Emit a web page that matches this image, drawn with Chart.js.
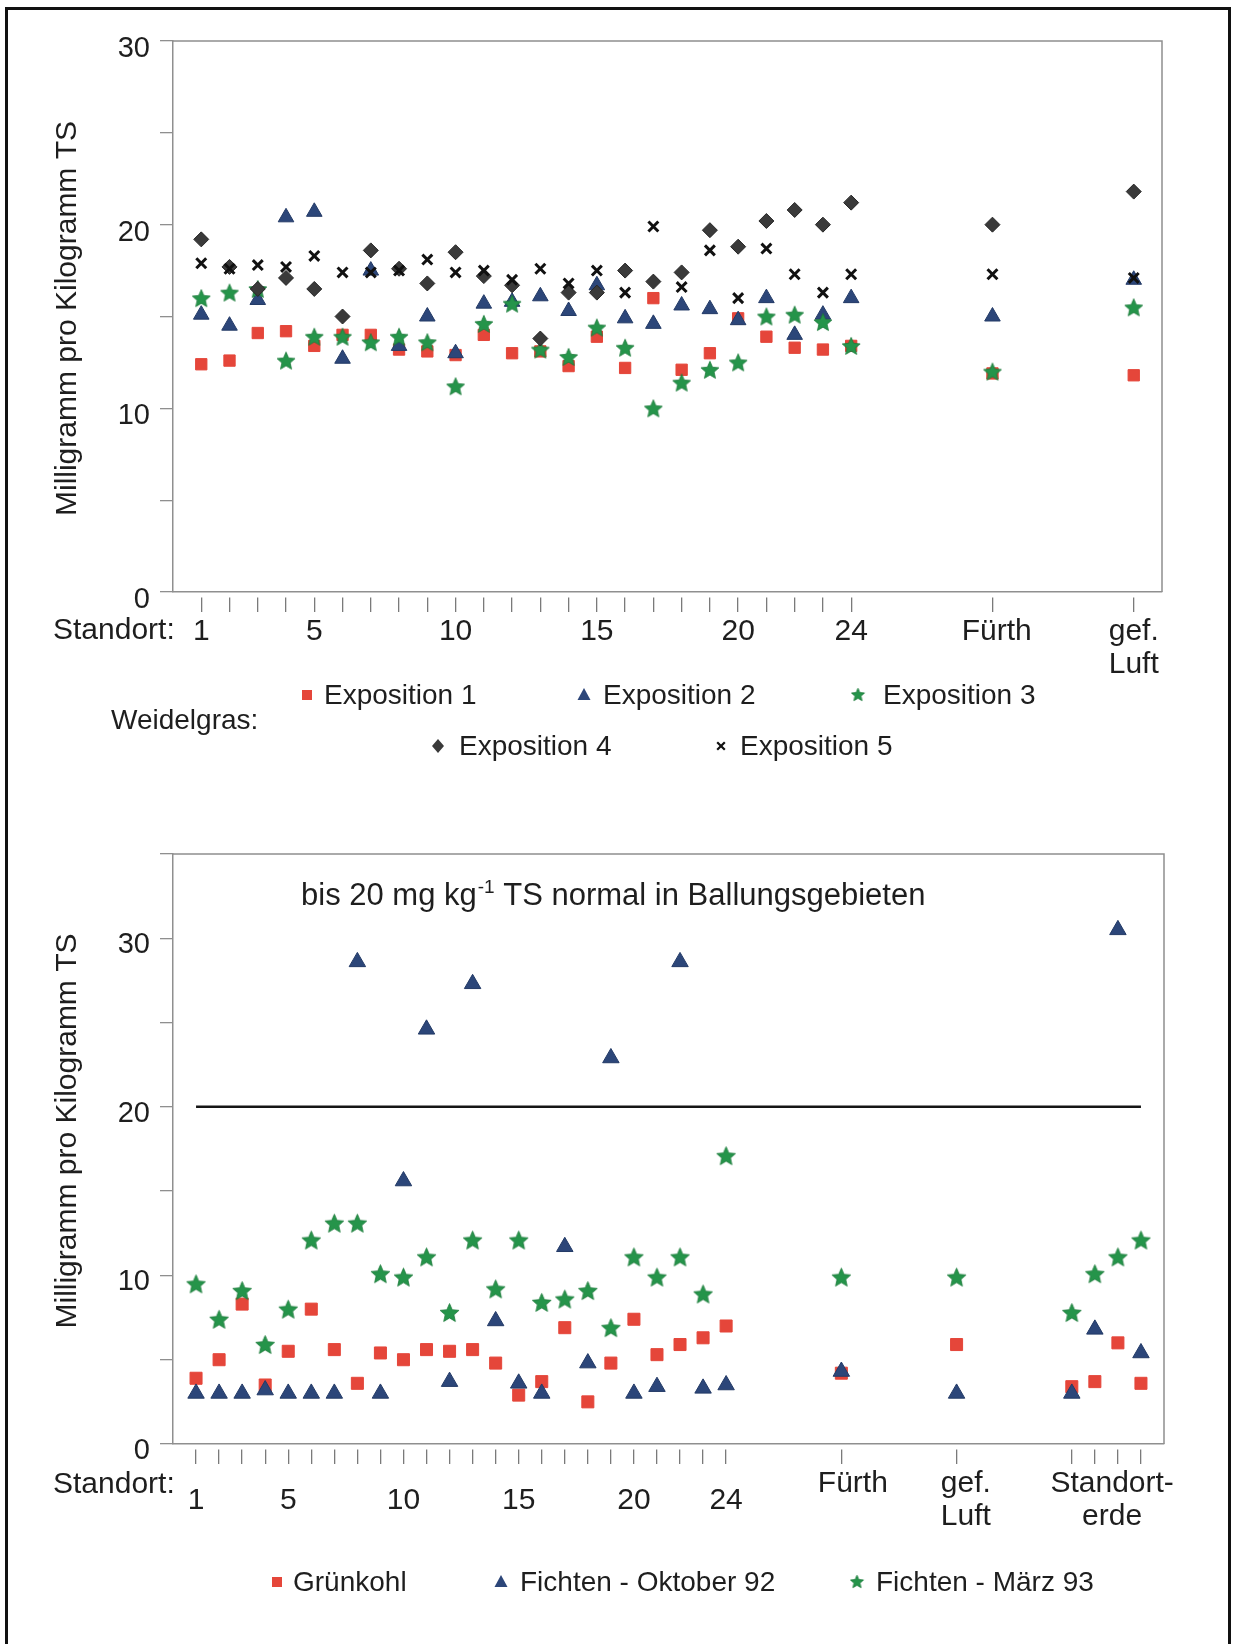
<!DOCTYPE html>
<html>
<head>
<meta charset="utf-8">
<script src="https://cdn.jsdelivr.net/npm/chart.js@4.4.1/dist/chart.umd.min.js"></script>
<style>
  html, body { margin: 0; padding: 0; background: #fff; }
  body { width: 1235px; height: 1644px; position: relative; overflow: hidden; }
  #frame { position: absolute; left: 5px; top: 7px; width: 1226px; height: 1680px;
           border: 3px solid #111; box-sizing: border-box; }
  #grassWrap { position: absolute; left: 0; top: 0; width: 1235px; height: 780px; }
  #kaleWrap  { position: absolute; left: 0; top: 780px; width: 1235px; height: 864px; }
  canvas { display: block; }
</style>
</head>
<body>
<div id="frame"></div>
<div id="grassWrap"><canvas id="grass" width="1235" height="780"></canvas></div>
<div id="kaleWrap"><canvas id="kale" width="1235" height="864"></canvas></div>
<script>
// ---------- Weidelgras (ryegrass), five exposures ----------
const grassSites  = ['1','2','3','4','5','6','7','8','9','10','11','12','13','14','15','16','17','18','19','20','21','22','23','24','Fürth','gef. Luft'];
const grassSiteX  = [1,2,3,4,5,6,7,8,9,10,11,12,13,14,15,16,17,18,19,20,21,22,23,24,29,34];
const expo1 = [12.4,12.6,14.1,14.2,13.4,14.0,14.0,13.2,13.1,12.9,14.0,13.0,13.1,12.3,13.9,12.2,16.0,12.1,13.0,14.9,13.9,13.3,13.2,13.4,11.9,11.8];
const expo2 = [15.1,14.5,15.9,20.4,20.7,12.7,17.5,13.4,15.0,13.0,15.7,15.8,16.1,15.3,16.7,14.9,14.6,15.6,15.4,14.8,16.0,14.0,15.1,16.0,15.0,17.0];
const expo3 = [16.0,16.3,16.5,12.6,13.9,13.9,13.6,13.9,13.6,11.2,14.6,15.7,13.2,12.8,14.4,13.3,10.0,11.4,12.1,12.5,15.0,15.1,14.7,13.4,12.0,15.5];
const expo4 = [19.2,17.7,16.5,17.1,16.5,15.0,18.6,17.6,16.8,18.5,17.2,16.7,13.8,16.3,16.3,17.5,16.9,17.4,19.7,18.8,20.2,20.8,20.0,21.2,20.0,21.8];
const expo5 = [17.9,17.6,17.8,17.7,18.3,17.4,17.4,17.5,18.1,17.4,17.5,17.0,17.6,16.8,17.5,16.3,19.9,16.6,18.6,16.0,18.7,17.3,16.3,17.3,17.3,17.1];
const grassSeriesNames = ['Exposition 1','Exposition 2','Exposition 3','Exposition 4','Exposition 5'];
const grassLabelX    = [1,5,10,15,20,24,29.15,34];
const grassLabelText = ['1','5','10','15','20','24','Fürth','gef.\nLuft'];

// ---------- Grünkohl (kale) and Fichten (spruce) ----------
const kaleSites = ['1','2','3','4','5','6','7','8','9','10','11','12','13','14','15','16','17','18','19','20','21','22','23','24','Fürth','gef. Luft','Standorterde 1','Standorterde 2','Standorterde 3','Standorterde 4'];
const kaleSiteX = [1,2,3,4,5,6,7,8,9,10,11,12,13,14,15,16,17,18,19,20,21,22,23,24,29,34,39,40,41,42];
const kale      = [3.9,5.0,8.3,3.5,5.5,8.0,5.6,3.6,5.4,5.0,5.6,5.5,5.6,4.8,2.9,3.7,6.9,2.5,4.8,7.4,5.3,5.9,6.3,7.0,4.2,5.9,3.4,3.7,6.0,3.6];
const spruceOct = [3.0,3.0,3.0,3.2,3.0,3.0,3.0,28.6,3.0,15.6,24.6,3.7,27.3,7.3,3.6,3.0,11.7,4.8,22.9,3.0,3.4,28.6,3.3,3.5,4.3,3.0,3.0,6.8,30.5,5.4];
const spruceMar = [9.5,7.4,9.1,5.9,8.0,12.1,13.1,13.1,10.1,9.9,11.1,7.8,12.1,9.2,12.1,8.4,8.6,9.1,6.9,11.1,9.9,11.1,8.9,17.1,9.9,9.9,7.8,10.1,11.1,12.1];
const kaleSeriesNames = ['Grünkohl','Fichten - Oktober 92','Fichten - März 93'];
const kaleNumberX    = [1,5,10,15,20,24];
const kaleNumberText = ['1','5','10','15','20','24'];
const kalePlaceX     = [29.5,34.4,40.75];
const kalePlaceText  = ['Fürth','gef.\nLuft','Standort-\nerde'];
const normalLimit = 20;          // mg/kg TS, usual upper level in conurbations
const normalSpan  = [1, 42];

const yTitle = 'Milligramm pro Kilogramm TS';

// ---------- styling ----------
const FONT = '"Liberation Sans", Arial, Helvetica, sans-serif';
const INK = '#1e1e1e';
const GREY = '#8f8f8f';
const RED = '#e5463a';
const NAVY = '#2c4679';
const GREEN = '#25944a';
const DARK = '#3a3a3a';

function makeStar(size, fill, edge) {
  const c = document.createElement('canvas');
  c.width = size; c.height = size;
  const g = c.getContext('2d');
  const R = size / 2 - 0.6, r = R * 0.46;
  const cx = size / 2, cy = size / 2 + R * 0.09;
  g.beginPath();
  for (let k = 0; k < 10; k++) {
    const a = -Math.PI / 2 + k * Math.PI / 5;
    const rr = k % 2 === 0 ? R : r;
    g.lineTo(cx + rr * Math.cos(a), cy + rr * Math.sin(a));
  }
  g.closePath();
  g.fillStyle = fill; g.fill();
  g.lineWidth = 0.8; g.strokeStyle = edge; g.stroke();
  return c;
}
const starTop = makeStar(20, GREEN, '#1c7a3a');
const starBottom = makeStar(21, GREEN, '#1c7a3a');
const starLegend = makeStar(15, GREEN, '#1c7a3a');

const markSquare   = { pointStyle: 'rect', pointRadius: 8, backgroundColor: RED, borderColor: RED, borderWidth: 1 };
const markTriangle = { pointStyle: 'triangle', pointRadius: 9, backgroundColor: NAVY, borderColor: '#233a66', borderWidth: 1 };
const markDiamond  = { pointStyle: 'rectRot', pointRadius: 7.5, backgroundColor: DARK, borderColor: '#262626', borderWidth: 1 };
const markCross    = { pointStyle: 'crossRot', pointRadius: 7, backgroundColor: '#111', borderColor: '#111', borderWidth: 3 };

function points(xs, ys) { return xs.map((x, i) => ({ x: x, y: ys[i] })); }
function series(label, xs, ys, mark, order) {
  return Object.assign({ type: 'scatter', label: label, data: points(xs, ys), order: order,
                         pointHoverRadius: mark.pointRadius }, mark);
}

// legend marker painter
function drawMarker(ctx, kind, x, y) {
  ctx.save();
  if (kind === 'square') {
    ctx.fillStyle = RED; ctx.fillRect(x - 5, y - 5, 10, 10);
  } else if (kind === 'triangle') {
    ctx.fillStyle = NAVY; ctx.beginPath();
    ctx.moveTo(x, y - 7); ctx.lineTo(x + 6.5, y + 5); ctx.lineTo(x - 6.5, y + 5); ctx.closePath(); ctx.fill();
  } else if (kind === 'star') {
    ctx.drawImage(starLegend, x - 7.5, y - 8);
  } else if (kind === 'diamond') {
    ctx.fillStyle = DARK; ctx.beginPath();
    ctx.moveTo(x, y - 7); ctx.lineTo(x + 6, y); ctx.lineTo(x, y + 7); ctx.lineTo(x - 6, y); ctx.closePath(); ctx.fill();
  } else if (kind === 'cross') {
    ctx.strokeStyle = '#111'; ctx.lineWidth = 2.2; ctx.beginPath();
    ctx.moveTo(x - 3.8, y - 3.8); ctx.lineTo(x + 3.8, y + 3.8);
    ctx.moveTo(x + 3.8, y - 3.8); ctx.lineTo(x - 3.8, y + 3.8); ctx.stroke();
  }
  ctx.restore();
}

// draws the plot box, axis title, site names, caption, legend and notes
const sheetPlugin = {
  id: 'sheet',
  beforeDatasetsDraw(chart) {
    const { ctx, chartArea: a } = chart;
    ctx.save();
    ctx.strokeStyle = GREY; ctx.lineWidth = 1.5;
    ctx.beginPath();
    ctx.moveTo(a.left, a.top); ctx.lineTo(a.right, a.top); ctx.lineTo(a.right, a.bottom);
    ctx.stroke();
    ctx.restore();
  },
  afterDraw(chart, args, o) {
    const { ctx, chartArea: a } = chart;
    const xs = chart.scales.x;
    ctx.save();
    ctx.fillStyle = INK;
    ctx.textBaseline = 'middle';

    // rotated value-axis title
    ctx.save();
    ctx.font = '30px ' + FONT;
    ctx.textAlign = 'center';
    ctx.translate(68, (a.top + a.bottom) / 2 + o.titleShift);
    ctx.rotate(-Math.PI / 2);
    ctx.fillText(yTitle, 0, 0);
    ctx.restore();

    ctx.font = '30px ' + FONT;
    ctx.textAlign = 'center';
    (o.siteLabels || []).forEach(g => {
      g.values.forEach((v, i) => {
        g.texts[i].split('\n').forEach((ln, k) => {
          ctx.fillText(ln, xs.getPixelForValue(v), a.bottom + g.dy + k * 33);
        });
      });
    });
    ctx.textAlign = 'left';
    ctx.fillText('Standort:', 53, a.bottom + o.captionDy);

    ctx.font = '28px ' + FONT;
    (o.legend || []).forEach(it => {
      drawMarker(ctx, it.kind, it.mx, it.y);
      ctx.fillStyle = INK;
      ctx.fillText(it.text, it.tx, it.y + 1);
    });
    if (o.groupName) ctx.fillText(o.groupName.text, o.groupName.x, o.groupName.y);

    if (o.note) {
      const n = o.note;
      let x = n.x;
      ctx.font = '31px ' + FONT;
      ctx.textBaseline = 'alphabetic';
      ctx.fillText(n.before, x, n.y); x += ctx.measureText(n.before).width + 1;
      ctx.font = '19px ' + FONT;
      ctx.fillText(n.sup, x, n.y - 12); x += ctx.measureText(n.sup).width;
      ctx.font = '31px ' + FONT;
      ctx.fillText(n.after, x, n.y);
    }
    ctx.restore();
  }
};

function yAxis(max, labelOffset) {
  return {
    type: 'linear', position: 'left', min: 0, max: max,
    ticks: { stepSize: 5, autoSkip: false, color: INK, padding: 10, labelOffset: labelOffset,
             font: { family: FONT, size: 29 }, callback: v => (v % 10 === 0 ? String(v) : '') },
    grid: { drawOnChartArea: false, drawTicks: true, tickLength: 13, color: GREY, lineWidth: 1.3 },
    border: { display: true, color: GREY, width: 1.5 },
    title: { display: false },
    afterFit: s => { s.width = 173; }
  };
}
function xAxis(max, tickValues, height) {
  return {
    type: 'linear', position: 'bottom', min: 0, max: max,
    afterBuildTicks: s => { s.ticks = tickValues.map(v => ({ value: v })); },
    ticks: { autoSkip: false, maxRotation: 0, callback: () => '', font: { family: FONT, size: 10 } },
    grid: { drawOnChartArea: false, drawTicks: true, tickLength: 20, color: '#7a7a7a', lineWidth: 1.3,
            tickBorderDash: [0, 5, 15, 60] },
    border: { display: true, color: GREY, width: 1.5 },
    afterFit: s => { s.height = height; }
  };
}

// ---------- chart 1: Weidelgras ----------
new Chart(document.getElementById('grass'), {
  type: 'scatter',
  data: {
    datasets: [
      series(grassSeriesNames[0], grassSiteX, expo1, markSquare, 5),
      series(grassSeriesNames[1], grassSiteX, expo2, markTriangle, 4),
      series(grassSeriesNames[2], grassSiteX, expo3, { pointStyle: starTop, pointRadius: 10 }, 3),
      series(grassSeriesNames[3], grassSiteX, expo4, markDiamond, 2),
      series(grassSeriesNames[4], grassSiteX, expo5, markCross, 1)
    ]
  },
  options: {
    responsive: false, animation: false, events: [],
    layout: { padding: { left: 0, top: 41, right: 73, bottom: 0 } },
    scales: { x: xAxis(35, grassSiteX, 188), y: yAxis(30, 8) },
    plugins: {
      legend: { display: false }, tooltip: { enabled: false },
      sheet: {
        titleShift: 2,
        siteLabels: [{ values: grassLabelX, texts: grassLabelText, dy: 40 }],
        captionDy: 39,
        groupName: { text: 'Weidelgras:', x: 111, y: 721 },
        legend: [
          { kind: 'square',   text: grassSeriesNames[0], mx: 307, tx: 324, y: 695 },
          { kind: 'triangle', text: grassSeriesNames[1], mx: 584, tx: 603, y: 695 },
          { kind: 'star',     text: grassSeriesNames[2], mx: 858, tx: 883, y: 695 },
          { kind: 'diamond',  text: grassSeriesNames[3], mx: 438, tx: 459, y: 746 },
          { kind: 'cross',    text: grassSeriesNames[4], mx: 721, tx: 740, y: 746 }
        ]
      }
    }
  },
  plugins: [sheetPlugin]
});

// ---------- chart 2: Grünkohl and Fichten ----------
new Chart(document.getElementById('kale'), {
  type: 'scatter',
  data: {
    datasets: [
      { type: 'line', label: 'Normalwert', data: normalSpan.map(x => ({ x: x, y: normalLimit })),
        borderColor: '#151515', borderWidth: 2.5, pointRadius: 0, fill: false, order: 10 },
      series(kaleSeriesNames[0], kaleSiteX, kale, Object.assign({}, markSquare, { pointRadius: 8.5 }), 3),
      series(kaleSeriesNames[1], kaleSiteX, spruceOct, Object.assign({}, markTriangle, { pointRadius: 9.5 }), 2),
      series(kaleSeriesNames[2], kaleSiteX, spruceMar, { pointStyle: starBottom, pointRadius: 10 }, 1)
    ]
  },
  options: {
    responsive: false, animation: false, events: [],
    layout: { padding: { left: 0, top: 74, right: 71, bottom: 0 } },
    scales: { x: xAxis(43, kaleSiteX, 200), y: yAxis(35, 7) },
    plugins: {
      legend: { display: false }, tooltip: { enabled: false },
      sheet: {
        titleShift: -18,
        siteLabels: [
          { values: kaleNumberX, texts: kaleNumberText, dy: 57 },
          { values: kalePlaceX, texts: kalePlaceText, dy: 40 }
        ],
        captionDy: 41,
        legend: [
          { kind: 'square',   text: kaleSeriesNames[0], mx: 277, tx: 293, y: 802 },
          { kind: 'triangle', text: kaleSeriesNames[1], mx: 501, tx: 520, y: 802 },
          { kind: 'star',     text: kaleSeriesNames[2], mx: 857, tx: 876, y: 802 }
        ],
        note: { x: 301, y: 125, before: 'bis 20 mg kg', sup: '-1', after: ' TS normal in Ballungsgebieten' }
      }
    }
  },
  plugins: [sheetPlugin]
});
</script>
</body>
</html>
